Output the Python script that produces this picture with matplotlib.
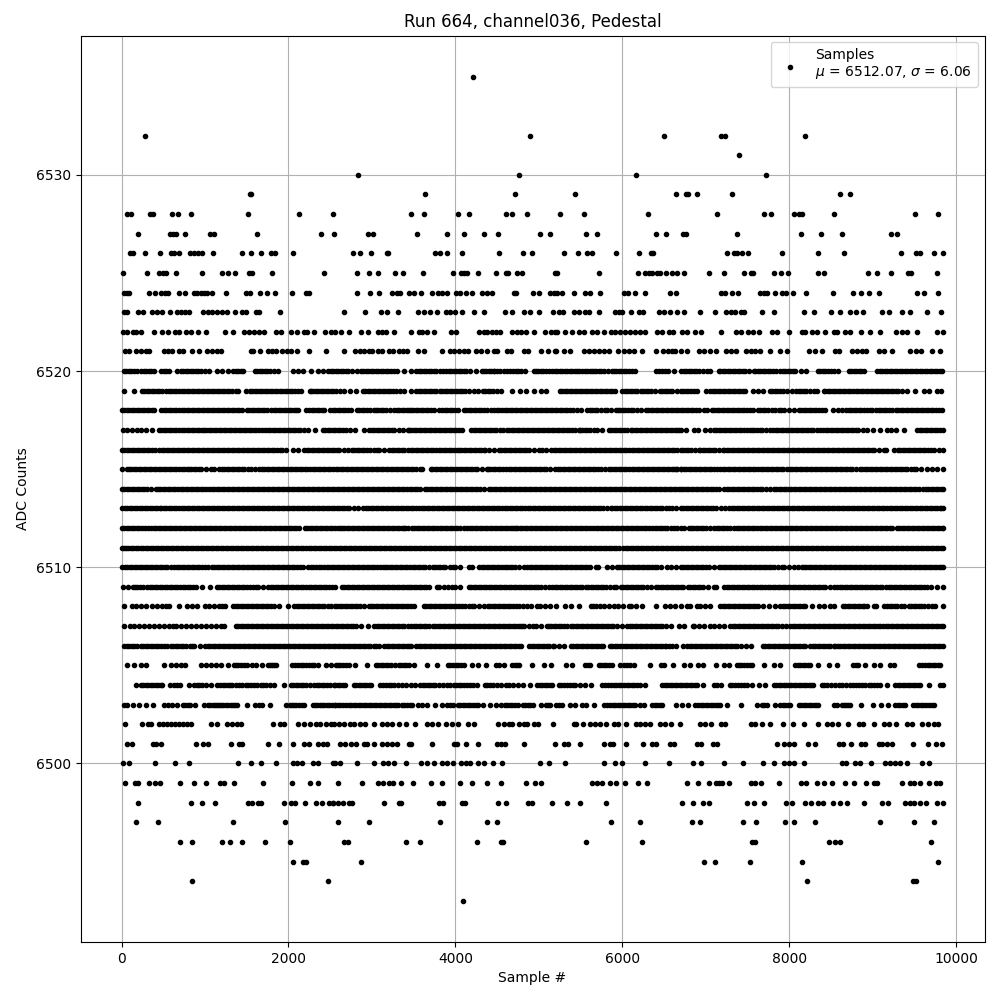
import matplotlib
matplotlib.use("Agg")
import matplotlib.pyplot as plt

run_number = 664
channel = "channel036"
mean_adc = 6512.07
std_adc = 6.06

# sample numbers, one list per ADC level
adc_6535 = [4211]
adc_6532 = [280, 4895, 6498, 7186, 7226, 8185]
adc_6531 = [7398]
adc_6530 = [2831, 4763, 6162, 7717]
adc_6529 = [1540, 1556, 3635, 4715, 5430, 6642, 6770, 6790, 6890, 7314, 8605, 8725]
adc_6528 = [68, 108, 340, 380, 604, 680, 832, 1516, 2128, 2536, 3467, 3623, 4031, 4163, 4607, 4679, 4859, 5250, 5538, 6306, 7134, 7701, 7777, 8053, 8113, 8153, 8533, 9505, 9781]
adc_6527 = [196, 580, 612, 652, 760, 1060, 1108, 1624, 2392, 2544, 2951, 3011, 3539, 3899, 4103, 4343, 4511, 5015, 5135, 5562, 5694, 6402, 6522, 6726, 6766, 7374, 8137, 8377, 8629, 9217, 9293]
adc_6526 = [100, 132, 280, 460, 596, 628, 688, 820, 868, 916, 964, 1096, 1444, 1552, 1672, 1792, 1840, 2060, 2771, 2855, 2987, 3175, 3191, 3755, 3815, 3899, 4079, 4523, 4811, 4919, 5298, 5466, 5574, 5634, 5922, 6198, 6346, 6370, 7254, 7338, 7378, 7438, 7506, 7909, 8341, 8653, 9337, 9517, 9565, 9733, 9841]
adc_6525 = [16, 308, 448, 500, 528, 652, 964, 1204, 1276, 1360, 1528, 1564, 1804, 2428, 2823, 2963, 3071, 3275, 3371, 3611, 3971, 4063, 4103, 4143, 4271, 4483, 4603, 4635, 4743, 4799, 5191, 5218, 5718, 6186, 6278, 6318, 6358, 6418, 6458, 6530, 6598, 6662, 6738, 7038, 7218, 7458, 7538, 7570, 7813, 7897, 7981, 8341, 8413, 8941, 9049, 9217, 9421, 9461, 9769]
adc_6524 = [28, 60, 92, 332, 400, 472, 520, 556, 688, 760, 868, 904, 952, 988, 1024, 1084, 1252, 1492, 1540, 1660, 1744, 1840, 2044, 2212, 2248, 2823, 2975, 3083, 3243, 3295, 3335, 3443, 3503, 3583, 3715, 3791, 3843, 3895, 4003, 4055, 4127, 4203, 4323, 4383, 4443, 4703, 4723, 4931, 5003, 5135, 5183, 5218, 5278, 5418, 5558, 5618, 5730, 6018, 6070, 6158, 6278, 6578, 6642, 7186, 7226, 7310, 7390, 7653, 7693, 7733, 7825, 7913, 7961, 8049, 8197, 8521, 8761, 8857, 8961, 9073, 9529, 9613, 9781]
adc_6523 = [28, 68, 196, 256, 368, 420, 488, 576, 660, 716, 764, 812, 980, 1036, 1088, 1148, 1208, 1260, 1360, 1440, 1496, 1608, 1648, 1900, 2663, 2923, 3103, 3183, 3311, 3551, 3623, 3691, 3779, 3883, 3935, 3991, 4083, 4227, 4347, 4595, 4675, 4823, 4891, 5003, 5171, 5238, 5286, 5418, 5482, 5558, 5606, 5718, 5918, 5958, 5998, 6106, 6198, 6250, 6438, 6498, 6578, 6658, 6738, 6930, 7110, 7238, 7298, 7346, 7418, 7458, 7673, 7813, 8173, 8293, 8501, 8605, 8725, 8805, 8889, 9109, 9193, 9353, 9445, 9653, 9821]
adc_6522 = [16, 60, 140, 168, 228, 388, 488, 556, 636, 688, 768, 828, 916, 1016, 1240, 1336, 1468, 1528, 1588, 1648, 1708, 1852, 1916, 2032, 2104, 2188, 2228, 2300, 2436, 2508, 2556, 2631, 2723, 2871, 2951, 3071, 3123, 3163, 3263, 3471, 3563, 3603, 3663, 3743, 3951, 4003, 4283, 4343, 4383, 4435, 4491, 4535, 4683, 4743, 4791, 4843, 4943, 5075, 5143, 5191, 5218, 5318, 5398, 5478, 5538, 5638, 5698, 5778, 5866, 5918, 5978, 6038, 6098, 6158, 6218, 6278, 6418, 6478, 6558, 6610, 6718, 6778, 6870, 6946, 7178, 7358, 7418, 7506, 7570, 7633, 7793, 7853, 7993, 8153, 8193, 8273, 8333, 8425, 8533, 8573, 8673, 8725, 8861, 8973, 9085, 9285, 9353, 9413, 9533, 9773, 9845]
adc_6521 = [36, 88, 168, 228, 288, 328, 508, 556, 608, 688, 740, 848, 928, 1028, 1088, 1140, 1188, 1548, 1580, 1660, 1756, 1804, 1848, 1928, 1988, 2028, 2108, 2248, 2452, 2671, 2803, 2855, 2911, 2963, 3003, 3071, 3123, 3203, 3255, 3323, 3375, 3423, 3551, 3623, 3843, 3935, 3983, 4043, 4103, 4151, 4243, 4303, 4383, 4463, 4503, 4623, 4663, 4823, 4871, 5027, 5111, 5191, 5202, 5306, 5370, 5538, 5598, 5658, 5718, 5778, 5838, 5946, 6018, 6078, 6146, 6238, 6402, 6486, 6546, 6598, 6638, 6702, 6778, 6918, 6978, 7050, 7118, 7238, 7298, 7358, 7478, 7538, 7586, 7653, 7773, 7885, 7973, 8233, 8313, 8393, 8553, 8593, 8753, 8813, 8873, 8925, 9073, 9141, 9233, 9445, 9525, 9581, 9713, 9805]
adc_6520 = [28, 58, 88, 118, 148, 188, 228, 268, 298, 328, 358, 388, 468, 508, 538, 568, 668, 708, 738, 768, 798, 828, 858, 888, 918, 948, 998, 1048, 1140, 1208, 1276, 1336, 1366, 1396, 1428, 1460, 1596, 1626, 1656, 1686, 1716, 1746, 1776, 1828, 1880, 2060, 2120, 2180, 2268, 2348, 2408, 2476, 2506, 2536, 2566, 2596, 2626, 2656, 2686, 2716, 2766, 2816, 2868, 2898, 2928, 2958, 2988, 3018, 3048, 3078, 3108, 3138, 3168, 3198, 3228, 3264, 3300, 3388, 3468, 3531, 3561, 3591, 3621, 3651, 3681, 3711, 3741, 3771, 3812, 3853, 3893, 3923, 3953, 3983, 4013, 4043, 4073, 4103, 4133, 4181, 4251, 4321, 4341, 4371, 4401, 4431, 4461, 4469, 4504, 4539, 4580, 4621, 4653, 4687, 4721, 4755, 4789, 4833, 4941, 4961, 4991, 5021, 5051, 5081, 5121, 5161, 5189, 5219, 5249, 5279, 5309, 5339, 5369, 5399, 5429, 5455, 5481, 5521, 5551, 5581, 5611, 5641, 5661, 5691, 5721, 5751, 5781, 5831, 5881, 5901, 5931, 5961, 5991, 6021, 6051, 6081, 6115, 6149, 6401, 6441, 6481, 6517, 6553, 6621, 6701, 6735, 6765, 6795, 6825, 6855, 6885, 6915, 6965, 7015, 7047, 7155, 7175, 7205, 7235, 7265, 7295, 7325, 7355, 7385, 7415, 7445, 7475, 7525, 7575, 7595, 7625, 7655, 7685, 7715, 7745, 7775, 7811, 7847, 7895, 7925, 7955, 7985, 8015, 8045, 8075, 8143, 8207, 8343, 8373, 8403, 8433, 8463, 8499, 8535, 8583, 8715, 8745, 8775, 8805, 8835, 8865, 8895, 9055, 9085, 9115, 9145, 9175, 9205, 9235, 9265, 9295, 9325, 9355, 9385, 9415, 9445, 9475, 9505, 9535, 9565, 9595, 9625, 9655, 9685, 9715, 9745, 9775, 9805, 9835]
adc_6519 = [28, 148, 240, 270, 300, 330, 360, 390, 420, 450, 480, 528, 568, 598, 628, 658, 688, 718, 748, 778, 808, 838, 868, 898, 928, 958, 988, 1018, 1048, 1078, 1108, 1138, 1168, 1198, 1228, 1258, 1288, 1328, 1368, 1400, 1488, 1536, 1566, 1596, 1626, 1656, 1686, 1716, 1746, 1776, 1806, 1836, 1866, 1896, 1926, 1956, 1986, 2016, 2046, 2076, 2120, 2156, 2256, 2268, 2298, 2328, 2358, 2388, 2418, 2448, 2478, 2508, 2538, 2568, 2614, 2660, 2736, 2812, 2888, 2918, 2948, 2978, 3008, 3038, 3068, 3098, 3128, 3158, 3188, 3218, 3248, 3292, 3336, 3388, 3468, 3533, 3563, 3593, 3623, 3653, 3683, 3713, 3743, 3773, 3813, 3843, 3873, 3903, 3933, 3963, 3993, 4023, 4053, 4083, 4113, 4167, 4221, 4269, 4329, 4359, 4389, 4419, 4449, 4495, 4541, 4673, 4773, 4841, 4941, 5021, 5081, 5253, 5283, 5313, 5343, 5373, 5403, 5433, 5463, 5493, 5523, 5553, 5583, 5613, 5643, 5673, 5703, 5733, 5763, 5793, 5823, 5853, 5883, 5913, 6001, 6031, 6061, 6091, 6121, 6147, 6173, 6221, 6251, 6281, 6311, 6341, 6397, 6453, 6481, 6511, 6541, 6571, 6601, 6651, 6701, 6731, 6761, 6791, 6821, 6858, 6895, 7003, 7055, 7085, 7115, 7145, 7175, 7205, 7235, 7265, 7295, 7325, 7355, 7385, 7415, 7445, 7475, 7567, 7623, 7687, 7767, 7797, 7827, 7857, 7887, 7931, 7975, 8035, 8087, 8117, 8147, 8177, 8207, 8251, 8295, 8335, 8415, 8435, 8465, 8495, 8525, 8555, 8585, 8615, 8645, 8675, 8705, 8735, 8767, 8797, 8827, 8857, 8887, 8917, 8947, 8977, 9007, 9037, 9067, 9097, 9127, 9157, 9187, 9217, 9247, 9277, 9307, 9357, 9407, 9507, 9615, 9675, 9775, 9823]
adc_6518 = [0, 30, 60, 90, 120, 150, 180, 210, 240, 270, 300, 330, 360, 388, 468, 508, 538, 568, 598, 628, 658, 688, 718, 748, 778, 808, 838, 868, 898, 928, 958, 988, 1018, 1048, 1078, 1108, 1138, 1168, 1198, 1228, 1258, 1288, 1318, 1348, 1378, 1410, 1448, 1500, 1530, 1560, 1590, 1620, 1650, 1680, 1710, 1748, 1796, 1826, 1856, 1886, 1916, 1946, 1976, 2006, 2036, 2066, 2095, 2120, 2208, 2248, 2278, 2308, 2338, 2368, 2398, 2428, 2500, 2530, 2560, 2590, 2620, 2650, 2680, 2710, 2748, 2820, 2850, 2880, 2910, 2940, 2980, 3028, 3048, 3078, 3108, 3138, 3168, 3218, 3268, 3296, 3326, 3356, 3386, 3416, 3446, 3468, 3498, 3528, 3558, 3588, 3618, 3648, 3678, 3708, 3750, 3801, 3841, 3871, 3901, 3931, 3961, 3995, 4029, 4101, 4131, 4161, 4191, 4221, 4251, 4281, 4311, 4341, 4385, 4429, 4469, 4499, 4529, 4559, 4589, 4619, 4649, 4679, 4709, 4739, 4769, 4799, 4829, 4859, 4889, 4919, 4949, 4979, 5009, 5039, 5069, 5099, 5129, 5159, 5189, 5219, 5249, 5279, 5309, 5339, 5369, 5415, 5461, 5501, 5581, 5611, 5641, 5671, 5701, 5745, 5789, 5821, 5871, 5921, 5949, 5979, 6009, 6039, 6069, 6099, 6129, 6175, 6221, 6281, 6311, 6341, 6371, 6401, 6431, 6461, 6491, 6521, 6551, 6581, 6611, 6641, 6671, 6701, 6731, 6761, 6791, 6821, 6851, 6881, 6925, 6975, 7015, 7075, 7105, 7135, 7165, 7195, 7225, 7255, 7285, 7315, 7345, 7375, 7405, 7435, 7465, 7495, 7530, 7567, 7623, 7653, 7683, 7713, 7743, 7790, 7835, 7875, 7905, 7935, 7995, 8055, 8115, 8145, 8175, 8205, 8235, 8265, 8295, 8325, 8355, 8395, 8435, 8523, 8580, 8635, 8683, 8713, 8743, 8773, 8803, 8833, 8863, 8900, 8935, 8965, 8995, 9043, 9073, 9103, 9133, 9163, 9200, 9235, 9275, 9305, 9335, 9365, 9395, 9425, 9455, 9485, 9515, 9545, 9575, 9605, 9635, 9665, 9695, 9725, 9755, 9795, 9835]
adc_6517 = [20, 60, 120, 188, 228, 288, 368, 448, 478, 508, 538, 568, 598, 628, 658, 688, 718, 748, 778, 808, 838, 868, 898, 928, 958, 988, 1016, 1046, 1076, 1106, 1136, 1166, 1196, 1226, 1256, 1286, 1316, 1346, 1376, 1406, 1436, 1466, 1496, 1526, 1556, 1586, 1616, 1650, 1688, 1720, 1750, 1780, 1810, 1840, 1870, 1900, 1930, 1960, 1990, 2020, 2050, 2080, 2110, 2140, 2190, 2236, 2320, 2408, 2438, 2468, 2498, 2528, 2558, 2588, 2618, 2648, 2690, 2732, 2800, 2908, 2968, 2998, 3028, 3058, 3088, 3118, 3148, 3178, 3208, 3238, 3268, 3320, 3368, 3428, 3443, 3473, 3503, 3533, 3563, 3593, 3623, 3653, 3683, 3713, 3743, 3773, 3803, 3833, 3863, 3893, 3923, 3953, 3983, 4013, 4045, 4081, 4189, 4219, 4249, 4279, 4309, 4339, 4369, 4399, 4429, 4459, 4489, 4530, 4573, 4613, 4643, 4673, 4703, 4733, 4763, 4793, 4823, 4853, 4883, 4913, 4943, 4973, 5003, 5033, 5063, 5093, 5123, 5153, 5183, 5213, 5243, 5273, 5303, 5333, 5363, 5393, 5435, 5481, 5493, 5523, 5553, 5583, 5613, 5660, 5701, 5761, 5841, 5871, 5901, 5931, 5961, 5991, 6021, 6061, 6101, 6121, 6151, 6181, 6211, 6241, 6271, 6301, 6331, 6361, 6391, 6421, 6451, 6481, 6511, 6541, 6571, 6601, 6631, 6661, 6685, 6707, 6767, 6855, 6903, 6987, 7047, 7095, 7125, 7155, 7185, 7215, 7245, 7275, 7305, 7335, 7365, 7395, 7425, 7455, 7495, 7535, 7555, 7585, 7615, 7645, 7675, 7725, 7775, 7807, 7837, 7867, 7897, 7927, 7957, 7987, 8017, 8047, 8077, 8107, 8137, 8167, 8197, 8227, 8257, 8287, 8330, 8375, 8407, 8437, 8467, 8497, 8527, 8557, 8587, 8617, 8647, 8677, 8707, 8737, 8767, 8797, 8827, 8880, 8935, 9007, 9095, 9167, 9215, 9275, 9375, 9535, 9565, 9595, 9625, 9655, 9685, 9715, 9745, 9775, 9810, 9845]
adc_6516 = [0, 30, 60, 90, 120, 150, 180, 210, 240, 270, 300, 330, 360, 400, 448, 480, 510, 540, 570, 600, 630, 660, 690, 720, 750, 780, 810, 840, 870, 900, 930, 960, 990, 1020, 1050, 1080, 1110, 1140, 1170, 1200, 1230, 1260, 1290, 1320, 1350, 1380, 1410, 1440, 1470, 1500, 1530, 1560, 1590, 1620, 1650, 1680, 1710, 1740, 1770, 1800, 1830, 1860, 1895, 1928, 1968, 2060, 2116, 2188, 2218, 2248, 2278, 2308, 2338, 2368, 2398, 2428, 2458, 2488, 2518, 2548, 2578, 2608, 2660, 2716, 2756, 2786, 2816, 2846, 2876, 2906, 2936, 2980, 3028, 3058, 3088, 3148, 3208, 3238, 3268, 3298, 3328, 3358, 3388, 3428, 3468, 3498, 3528, 3558, 3588, 3618, 3648, 3678, 3708, 3738, 3768, 3798, 3828, 3858, 3888, 3918, 3948, 3985, 4021, 4041, 4071, 4101, 4131, 4161, 4191, 4221, 4251, 4281, 4311, 4341, 4361, 4401, 4461, 4521, 4551, 4581, 4611, 4641, 4671, 4701, 4731, 4761, 4791, 4821, 4851, 4881, 4940, 5001, 5041, 5090, 5141, 5181, 5211, 5241, 5271, 5301, 5331, 5361, 5391, 5421, 5451, 5481, 5511, 5541, 5571, 5601, 5631, 5661, 5691, 5721, 5751, 5781, 5811, 5841, 5871, 5901, 5931, 5961, 5991, 6021, 6051, 6081, 6111, 6141, 6171, 6201, 6231, 6261, 6291, 6321, 6351, 6381, 6411, 6441, 6471, 6501, 6531, 6561, 6591, 6621, 6660, 6701, 6731, 6761, 6791, 6821, 6870, 6915, 6935, 6965, 6995, 7025, 7055, 7085, 7115, 7160, 7207, 7223, 7253, 7283, 7313, 7343, 7373, 7403, 7433, 7463, 7493, 7523, 7553, 7583, 7613, 7643, 7673, 7703, 7733, 7763, 7793, 7823, 7853, 7883, 7913, 7943, 7973, 8003, 8033, 8063, 8093, 8123, 8153, 8183, 8213, 8243, 8273, 8303, 8333, 8363, 8393, 8423, 8453, 8483, 8513, 8543, 8573, 8603, 8633, 8663, 8693, 8723, 8753, 8783, 8813, 8843, 8873, 8903, 8933, 8963, 8993, 9023, 9080, 9135, 9155, 9255, 9303, 9333, 9363, 9393, 9423, 9453, 9483, 9513, 9543, 9573, 9603, 9633, 9663, 9700, 9735, 9795, 9845]
adc_6515 = [0, 60, 88, 116, 148, 178, 208, 238, 268, 298, 328, 358, 388, 418, 448, 478, 508, 538, 568, 598, 628, 658, 688, 718, 748, 778, 808, 836, 866, 896, 926, 956, 1010, 1068, 1108, 1168, 1198, 1228, 1258, 1288, 1318, 1348, 1378, 1408, 1438, 1468, 1510, 1548, 1596, 1648, 1678, 1708, 1738, 1768, 1798, 1828, 1858, 1888, 1918, 1948, 1988, 2018, 2048, 2078, 2108, 2138, 2168, 2198, 2228, 2258, 2288, 2318, 2348, 2378, 2408, 2438, 2468, 2498, 2528, 2568, 2598, 2628, 2658, 2688, 2718, 2748, 2778, 2808, 2838, 2868, 2898, 2928, 2958, 2988, 3018, 3048, 3078, 3108, 3138, 3168, 3198, 3228, 3258, 3288, 3318, 3348, 3378, 3408, 3438, 3468, 3498, 3528, 3573, 3601, 3709, 3721, 3751, 3781, 3811, 3841, 3871, 3901, 3931, 3961, 3991, 4021, 4051, 4081, 4111, 4141, 4171, 4201, 4231, 4261, 4320, 4381, 4389, 4419, 4449, 4479, 4509, 4539, 4569, 4605, 4641, 4669, 4699, 4729, 4759, 4789, 4819, 4849, 4879, 4909, 4939, 4969, 4999, 5029, 5059, 5089, 5140, 5189, 5229, 5259, 5289, 5319, 5349, 5379, 5409, 5439, 5469, 5499, 5529, 5559, 5589, 5619, 5649, 5679, 5709, 5750, 5793, 5841, 5871, 5901, 5931, 5961, 5991, 6021, 6051, 6081, 6111, 6141, 6171, 6201, 6231, 6261, 6291, 6321, 6351, 6381, 6411, 6441, 6471, 6501, 6531, 6561, 6591, 6621, 6647, 6660, 6701, 6707, 6737, 6767, 6797, 6827, 6857, 6887, 6917, 6947, 6977, 7007, 7037, 7067, 7100, 7135, 7175, 7207, 7237, 7267, 7297, 7327, 7357, 7387, 7417, 7447, 7477, 7507, 7537, 7567, 7597, 7627, 7657, 7687, 7717, 7747, 7777, 7807, 7837, 7867, 7897, 7927, 7975, 8005, 8035, 8065, 8095, 8125, 8155, 8185, 8215, 8245, 8275, 8305, 8335, 8365, 8395, 8425, 8455, 8485, 8515, 8545, 8575, 8605, 8635, 8665, 8695, 8725, 8755, 8805, 8855, 8875, 8905, 8935, 8965, 8995, 9025, 9055, 9085, 9115, 9145, 9175, 9205, 9235, 9265, 9295, 9325, 9355, 9385, 9415, 9455, 9495, 9515, 9575, 9655, 9715, 9775, 9845]
adc_6514 = [0, 30, 60, 90, 120, 150, 180, 210, 240, 270, 300, 350, 408, 436, 466, 496, 526, 556, 586, 616, 646, 676, 706, 736, 766, 796, 826, 856, 886, 916, 946, 976, 1010, 1048, 1080, 1110, 1140, 1170, 1200, 1230, 1260, 1290, 1320, 1350, 1380, 1410, 1440, 1470, 1500, 1530, 1560, 1590, 1620, 1650, 1680, 1710, 1740, 1770, 1800, 1830, 1860, 1890, 1920, 1950, 1980, 2010, 2040, 2070, 2100, 2130, 2160, 2190, 2220, 2250, 2280, 2310, 2340, 2370, 2400, 2430, 2460, 2490, 2520, 2550, 2580, 2610, 2640, 2670, 2700, 2730, 2760, 2790, 2820, 2850, 2880, 2910, 2940, 2970, 3000, 3030, 3060, 3090, 3120, 3150, 3180, 3210, 3240, 3270, 3300, 3330, 3360, 3390, 3420, 3453, 3485, 3513, 3545, 3581, 3633, 3663, 3693, 3723, 3753, 3783, 3813, 3843, 3873, 3903, 3933, 3963, 3993, 4023, 4053, 4083, 4113, 4143, 4173, 4203, 4233, 4263, 4293, 4340, 4401, 4429, 4459, 4489, 4519, 4549, 4579, 4609, 4639, 4669, 4699, 4729, 4759, 4789, 4819, 4849, 4879, 4909, 4939, 4969, 4999, 5029, 5059, 5089, 5119, 5149, 5179, 5209, 5239, 5269, 5299, 5329, 5359, 5389, 5419, 5449, 5479, 5509, 5539, 5569, 5599, 5629, 5659, 5689, 5719, 5749, 5779, 5809, 5839, 5869, 5899, 5929, 5959, 5989, 6019, 6049, 6079, 6109, 6139, 6169, 6199, 6229, 6259, 6289, 6319, 6349, 6379, 6409, 6439, 6469, 6499, 6529, 6559, 6589, 6619, 6649, 6675, 6701, 6731, 6761, 6791, 6821, 6851, 6881, 6911, 6941, 6971, 7001, 7031, 7061, 7091, 7121, 7165, 7215, 7255, 7285, 7315, 7345, 7375, 7405, 7435, 7465, 7495, 7525, 7555, 7585, 7615, 7645, 7675, 7720, 7775, 7815, 7845, 7875, 7905, 7935, 7965, 7995, 8025, 8055, 8085, 8115, 8145, 8175, 8205, 8235, 8265, 8295, 8325, 8355, 8385, 8415, 8445, 8475, 8505, 8535, 8565, 8595, 8625, 8655, 8685, 8715, 8745, 8775, 8805, 8835, 8865, 8895, 8925, 8955, 8985, 9015, 9045, 9075, 9105, 9135, 9165, 9195, 9225, 9255, 9285, 9315, 9345, 9375, 9405, 9435, 9465, 9495, 9525, 9555, 9607, 9637, 9667, 9697, 9727, 9757, 9787, 9815, 9845]
adc_6513 = [8, 38, 68, 98, 128, 158, 188, 218, 248, 278, 308, 338, 368, 398, 428, 455, 476, 508, 538, 568, 598, 628, 658, 688, 718, 748, 778, 808, 838, 868, 898, 928, 958, 988, 1018, 1048, 1078, 1108, 1138, 1168, 1198, 1228, 1258, 1288, 1318, 1348, 1378, 1408, 1438, 1468, 1498, 1528, 1558, 1588, 1618, 1648, 1678, 1708, 1738, 1768, 1798, 1828, 1858, 1888, 1918, 1948, 1978, 2008, 2038, 2068, 2098, 2128, 2158, 2188, 2218, 2248, 2278, 2308, 2338, 2368, 2398, 2428, 2458, 2488, 2518, 2548, 2578, 2608, 2638, 2668, 2698, 2728, 2780, 2828, 2896, 2926, 2956, 2986, 3016, 3046, 3076, 3106, 3136, 3166, 3196, 3226, 3256, 3286, 3316, 3346, 3376, 3406, 3436, 3468, 3498, 3528, 3565, 3601, 3629, 3659, 3689, 3719, 3749, 3779, 3809, 3839, 3869, 3899, 3929, 3959, 3989, 4019, 4049, 4079, 4109, 4139, 4169, 4199, 4229, 4259, 4289, 4319, 4349, 4379, 4409, 4439, 4469, 4499, 4529, 4559, 4589, 4619, 4649, 4679, 4709, 4739, 4769, 4800, 4833, 4869, 4899, 4929, 4959, 4989, 5019, 5049, 5079, 5109, 5139, 5169, 5199, 5229, 5259, 5289, 5319, 5349, 5379, 5409, 5439, 5469, 5499, 5529, 5559, 5589, 5619, 5649, 5679, 5709, 5739, 5769, 5815, 5861, 5881, 5911, 5941, 5971, 6001, 6031, 6061, 6091, 6121, 6151, 6181, 6211, 6241, 6271, 6301, 6331, 6361, 6391, 6421, 6451, 6481, 6521, 6561, 6601, 6650, 6701, 6731, 6761, 6791, 6821, 6851, 6881, 6911, 6941, 6971, 7001, 7031, 7061, 7091, 7121, 7180, 7235, 7283, 7313, 7343, 7373, 7403, 7433, 7463, 7493, 7523, 7553, 7583, 7613, 7643, 7673, 7703, 7733, 7763, 7793, 7823, 7853, 7883, 7913, 7943, 7973, 8003, 8033, 8063, 8093, 8123, 8153, 8183, 8213, 8243, 8273, 8303, 8333, 8363, 8393, 8423, 8453, 8483, 8513, 8543, 8573, 8603, 8633, 8663, 8693, 8723, 8753, 8783, 8813, 8843, 8873, 8903, 8933, 8963, 8993, 9023, 9053, 9083, 9113, 9143, 9173, 9203, 9233, 9263, 9293, 9323, 9353, 9383, 9413, 9443, 9473, 9503, 9533, 9563, 9593, 9623, 9653, 9683, 9713, 9743, 9773, 9803, 9825, 9845]
adc_6512 = [0, 30, 60, 90, 120, 150, 180, 210, 240, 280, 318, 356, 386, 416, 446, 476, 506, 536, 566, 596, 626, 656, 686, 716, 746, 776, 806, 836, 866, 896, 926, 956, 986, 1016, 1046, 1076, 1106, 1136, 1166, 1196, 1226, 1256, 1286, 1316, 1346, 1376, 1406, 1436, 1466, 1496, 1526, 1556, 1586, 1616, 1646, 1676, 1706, 1736, 1766, 1796, 1826, 1856, 1886, 1916, 1946, 1976, 2006, 2036, 2062, 2088, 2128, 2196, 2226, 2256, 2286, 2316, 2346, 2376, 2406, 2436, 2466, 2496, 2526, 2556, 2590, 2620, 2636, 2666, 2696, 2726, 2756, 2786, 2816, 2846, 2876, 2906, 2936, 2966, 2996, 3026, 3056, 3086, 3116, 3146, 3176, 3206, 3236, 3266, 3296, 3326, 3356, 3380, 3400, 3428, 3480, 3510, 3540, 3570, 3600, 3630, 3660, 3690, 3720, 3750, 3780, 3810, 3840, 3870, 3900, 3930, 3960, 3990, 4021, 4053, 4101, 4141, 4171, 4201, 4231, 4261, 4291, 4321, 4351, 4381, 4411, 4441, 4471, 4501, 4531, 4561, 4591, 4621, 4651, 4681, 4701, 4721, 4741, 4771, 4801, 4831, 4861, 4891, 4921, 4951, 4981, 5011, 5041, 5071, 5101, 5131, 5161, 5191, 5221, 5251, 5281, 5311, 5341, 5371, 5401, 5431, 5461, 5491, 5521, 5551, 5581, 5615, 5653, 5681, 5711, 5741, 5771, 5801, 5831, 5861, 5891, 5921, 5951, 5981, 6011, 6041, 6071, 6101, 6131, 6161, 6191, 6221, 6261, 6290, 6321, 6361, 6391, 6421, 6451, 6481, 6511, 6541, 6581, 6621, 6653, 6701, 6735, 6795, 6823, 6853, 6883, 6913, 6943, 6973, 7003, 7050, 7095, 7135, 7165, 7195, 7225, 7255, 7295, 7335, 7375, 7405, 7435, 7465, 7495, 7525, 7555, 7585, 7615, 7645, 7675, 7705, 7735, 7765, 7795, 7825, 7855, 7885, 7915, 7945, 7975, 8005, 8035, 8065, 8095, 8125, 8155, 8185, 8215, 8245, 8275, 8305, 8335, 8365, 8395, 8425, 8455, 8485, 8515, 8545, 8575, 8605, 8635, 8665, 8695, 8725, 8755, 8785, 8815, 8845, 8875, 8905, 8935, 8965, 8995, 9025, 9055, 9085, 9115, 9145, 9175, 9205, 9235, 9287, 9317, 9347, 9377, 9407, 9437, 9467, 9497, 9527, 9557, 9587, 9617, 9647, 9677, 9707, 9737, 9767, 9797, 9827, 9845]
adc_6511 = [0, 27, 55, 82, 110, 140, 170, 200, 230, 260, 290, 320, 350, 380, 410, 440, 470, 500, 530, 560, 590, 620, 650, 680, 710, 740, 770, 800, 830, 860, 890, 920, 950, 980, 1010, 1040, 1070, 1100, 1130, 1160, 1190, 1220, 1250, 1280, 1310, 1340, 1370, 1400, 1430, 1460, 1490, 1520, 1550, 1580, 1610, 1640, 1670, 1700, 1730, 1760, 1790, 1820, 1850, 1880, 1910, 1940, 1970, 2000, 2030, 2060, 2090, 2120, 2150, 2180, 2210, 2240, 2270, 2300, 2330, 2360, 2390, 2420, 2450, 2480, 2510, 2540, 2570, 2600, 2630, 2660, 2690, 2720, 2750, 2780, 2810, 2840, 2870, 2900, 2930, 2960, 2990, 3020, 3050, 3080, 3110, 3140, 3170, 3200, 3230, 3260, 3290, 3320, 3350, 3380, 3410, 3440, 3470, 3500, 3530, 3560, 3590, 3620, 3650, 3680, 3710, 3740, 3770, 3800, 3830, 3860, 3890, 3920, 3950, 3980, 4010, 4040, 4070, 4100, 4130, 4160, 4190, 4220, 4250, 4280, 4310, 4340, 4370, 4400, 4430, 4460, 4490, 4520, 4550, 4580, 4610, 4640, 4670, 4700, 4730, 4760, 4790, 4820, 4850, 4880, 4910, 4940, 4970, 5000, 5030, 5060, 5090, 5120, 5150, 5180, 5210, 5240, 5270, 5300, 5330, 5360, 5390, 5420, 5450, 5480, 5510, 5540, 5570, 5600, 5630, 5660, 5690, 5720, 5750, 5780, 5810, 5840, 5870, 5900, 5930, 5960, 6012, 6040, 6070, 6100, 6130, 6160, 6190, 6220, 6250, 6280, 6310, 6340, 6370, 6400, 6430, 6460, 6490, 6520, 6550, 6580, 6610, 6640, 6670, 6700, 6730, 6760, 6790, 6820, 6850, 6880, 6910, 6940, 6970, 7000, 7030, 7060, 7090, 7120, 7150, 7180, 7210, 7240, 7270, 7300, 7330, 7360, 7390, 7420, 7450, 7480, 7510, 7540, 7570, 7600, 7630, 7660, 7690, 7720, 7750, 7780, 7810, 7840, 7870, 7900, 7930, 7960, 7990, 8020, 8050, 8080, 8110, 8140, 8170, 8200, 8230, 8260, 8290, 8320, 8350, 8380, 8410, 8440, 8470, 8500, 8530, 8560, 8590, 8620, 8650, 8680, 8710, 8740, 8770, 8800, 8830, 8860, 8890, 8920, 8950, 8980, 9010, 9040, 9070, 9100, 9130, 9160, 9190, 9220, 9250, 9280, 9310, 9340, 9370, 9400, 9430, 9460, 9490, 9520, 9550, 9580, 9610, 9640, 9670, 9700, 9730, 9760, 9790, 9820, 9849]
adc_6510 = [8, 38, 68, 98, 128, 158, 188, 218, 248, 278, 308, 338, 368, 398, 428, 458, 488, 518, 548, 590, 628, 660, 690, 720, 750, 780, 810, 840, 870, 900, 930, 960, 1000, 1040, 1080, 1110, 1140, 1170, 1200, 1230, 1260, 1290, 1320, 1350, 1380, 1410, 1440, 1470, 1500, 1530, 1560, 1590, 1620, 1650, 1680, 1710, 1740, 1770, 1800, 1830, 1860, 1890, 1920, 1950, 1980, 2010, 2040, 2070, 2100, 2140, 2180, 2236, 2266, 2296, 2328, 2360, 2394, 2428, 2460, 2490, 2520, 2550, 2580, 2610, 2640, 2670, 2700, 2730, 2760, 2790, 2820, 2850, 2880, 2910, 2940, 2970, 3000, 3030, 3060, 3095, 3128, 3156, 3186, 3216, 3246, 3276, 3306, 3336, 3366, 3396, 3426, 3456, 3490, 3521, 3551, 3581, 3611, 3641, 3690, 3729, 3761, 3791, 3821, 3851, 3881, 3930, 3973, 4001, 4061, 4161, 4201, 4289, 4319, 4349, 4379, 4409, 4439, 4469, 4499, 4529, 4559, 4589, 4619, 4649, 4679, 4709, 4765, 4821, 4861, 4891, 4921, 4951, 4981, 5011, 5041, 5071, 5101, 5131, 5161, 5191, 5221, 5251, 5281, 5311, 5341, 5371, 5401, 5431, 5461, 5491, 5521, 5551, 5581, 5613, 5681, 5709, 5821, 5881, 5933, 5963, 5993, 6023, 6053, 6083, 6113, 6143, 6173, 6203, 6233, 6263, 6293, 6323, 6353, 6388, 6421, 6461, 6541, 6581, 6640, 6701, 6731, 6761, 6791, 6821, 6851, 6881, 6911, 6941, 6971, 7001, 7040, 7095, 7155, 7185, 7215, 7245, 7275, 7305, 7335, 7365, 7395, 7425, 7455, 7485, 7515, 7545, 7575, 7605, 7635, 7665, 7695, 7725, 7755, 7785, 7815, 7865, 7915, 7943, 8003, 8063, 8110, 8155, 8175, 8205, 8235, 8265, 8295, 8325, 8355, 8385, 8415, 8445, 8475, 8505, 8535, 8565, 8595, 8625, 8655, 8685, 8715, 8745, 8775, 8805, 8835, 8865, 8895, 8925, 8955, 8985, 9015, 9045, 9075, 9105, 9135, 9165, 9195, 9225, 9255, 9285, 9315, 9345, 9375, 9405, 9435, 9465, 9495, 9525, 9555, 9585, 9615, 9645, 9675, 9705, 9735, 9765, 9795, 9825, 9845]
adc_6509 = [20, 80, 140, 156, 186, 216, 260, 300, 335, 368, 400, 430, 460, 490, 520, 550, 580, 610, 640, 670, 700, 730, 760, 790, 820, 860, 896, 968, 1056, 1140, 1170, 1200, 1230, 1260, 1290, 1320, 1350, 1380, 1410, 1440, 1470, 1500, 1535, 1570, 1605, 1640, 1696, 1760, 1790, 1820, 1850, 1880, 1910, 1940, 1970, 2000, 2030, 2060, 2090, 2120, 2150, 2180, 2210, 2240, 2270, 2300, 2330, 2360, 2390, 2420, 2450, 2480, 2520, 2560, 2636, 2666, 2696, 2726, 2756, 2786, 2816, 2846, 2876, 2906, 2936, 2966, 2996, 3026, 3056, 3086, 3116, 3146, 3176, 3206, 3236, 3266, 3296, 3326, 3356, 3386, 3416, 3442, 3468, 3500, 3530, 3560, 3590, 3620, 3650, 3680, 3781, 3801, 3869, 3909, 3961, 4001, 4061, 4161, 4189, 4219, 4249, 4279, 4309, 4339, 4369, 4399, 4429, 4459, 4489, 4519, 4549, 4579, 4609, 4639, 4669, 4699, 4729, 4759, 4789, 4819, 4849, 4879, 4909, 4939, 4969, 4995, 5021, 5075, 5121, 5161, 5191, 5221, 5251, 5281, 5311, 5341, 5371, 5401, 5431, 5461, 5491, 5521, 5560, 5593, 5621, 5651, 5681, 5711, 5741, 5771, 5801, 5850, 5901, 5921, 5981, 6013, 6043, 6073, 6103, 6133, 6163, 6193, 6223, 6253, 6300, 6349, 6401, 6431, 6461, 6491, 6521, 6551, 6581, 6611, 6641, 6671, 6701, 6731, 6783, 6813, 6843, 6873, 6903, 6933, 6963, 7030, 7103, 7127, 7215, 7255, 7285, 7315, 7345, 7375, 7405, 7435, 7465, 7495, 7525, 7555, 7585, 7615, 7645, 7675, 7715, 7745, 7775, 7805, 7835, 7865, 7895, 7925, 7955, 7985, 8015, 8045, 8075, 8105, 8135, 8165, 8195, 8225, 8255, 8285, 8315, 8345, 8375, 8405, 8435, 8485, 8535, 8575, 8605, 8635, 8665, 8695, 8725, 8755, 8785, 8815, 8845, 8875, 8905, 8935, 8965, 8995, 9025, 9055, 9085, 9115, 9155, 9195, 9225, 9255, 9285, 9315, 9345, 9375, 9405, 9435, 9465, 9495, 9525, 9555, 9585, 9615, 9655, 9695, 9767, 9845]
adc_6508 = [28, 128, 168, 228, 288, 368, 428, 488, 528, 568, 688, 780, 840, 900, 1000, 1048, 1108, 1168, 1200, 1240, 1340, 1370, 1400, 1430, 1460, 1490, 1520, 1550, 1580, 1610, 1640, 1670, 1700, 1730, 1760, 1795, 1828, 1888, 2000, 2068, 2098, 2128, 2158, 2188, 2218, 2248, 2278, 2308, 2338, 2368, 2398, 2428, 2470, 2508, 2556, 2586, 2616, 2646, 2676, 2706, 2736, 2766, 2796, 2826, 2856, 2910, 2968, 2988, 3018, 3048, 3078, 3108, 3138, 3168, 3198, 3228, 3258, 3288, 3318, 3348, 3378, 3408, 3438, 3468, 3509, 3621, 3651, 3681, 3711, 3741, 3771, 3801, 3831, 3861, 3891, 3921, 3951, 3981, 4011, 4041, 4080, 4121, 4169, 4199, 4229, 4280, 4349, 4389, 4419, 4449, 4479, 4509, 4539, 4569, 4599, 4629, 4659, 4689, 4725, 4761, 4810, 4861, 4909, 4973, 5013, 5073, 5129, 5201, 5309, 5389, 5477, 5621, 5651, 5681, 5730, 5781, 5841, 5901, 5949, 6009, 6081, 6109, 6169, 6233, 6401, 6509, 6569, 6635, 6701, 6775, 6815, 6895, 6935, 6995, 7055, 7175, 7207, 7237, 7267, 7297, 7327, 7357, 7387, 7417, 7447, 7477, 7507, 7537, 7567, 7597, 7627, 7690, 7755, 7835, 7895, 7925, 7955, 7985, 8015, 8045, 8075, 8105, 8135, 8165, 8195, 8275, 8355, 8415, 8487, 8543, 8643, 8675, 8705, 8735, 8765, 8795, 8825, 8855, 8880, 8903, 8935, 9015, 9047, 9135, 9175, 9205, 9235, 9265, 9295, 9335, 9375, 9435, 9465, 9495, 9525, 9555, 9585, 9615, 9665, 9715, 9747, 9845]
adc_6507 = [28, 100, 148, 208, 268, 328, 388, 450, 508, 568, 616, 652, 716, 776, 836, 896, 956, 1008, 1068, 1128, 1188, 1228, 1368, 1398, 1428, 1458, 1488, 1518, 1548, 1578, 1608, 1638, 1668, 1698, 1728, 1758, 1788, 1818, 1848, 1878, 1908, 1938, 1968, 1998, 2028, 2058, 2088, 2118, 2148, 2178, 2208, 2238, 2268, 2298, 2328, 2358, 2388, 2418, 2448, 2478, 2508, 2538, 2568, 2598, 2628, 2658, 2688, 2718, 2748, 2778, 2808, 2868, 2948, 3028, 3058, 3088, 3118, 3148, 3178, 3208, 3238, 3268, 3298, 3328, 3358, 3388, 3428, 3468, 3500, 3530, 3560, 3590, 3620, 3650, 3680, 3729, 3759, 3789, 3819, 3849, 3879, 3909, 3939, 3969, 3999, 4029, 4059, 4089, 4119, 4149, 4179, 4209, 4239, 4269, 4299, 4329, 4359, 4389, 4419, 4449, 4479, 4509, 4539, 4569, 4599, 4629, 4659, 4689, 4719, 4749, 4775, 4801, 4821, 4881, 4931, 4961, 5021, 5093, 5121, 5151, 5181, 5211, 5241, 5271, 5301, 5340, 5381, 5413, 5443, 5473, 5503, 5533, 5563, 5593, 5623, 5653, 5683, 5713, 5743, 5773, 5803, 5833, 5863, 5893, 5941, 6001, 6061, 6091, 6121, 6151, 6181, 6211, 6241, 6271, 6301, 6331, 6361, 6391, 6421, 6451, 6481, 6521, 6581, 6681, 6735, 6847, 6863, 6923, 6985, 7047, 7095, 7155, 7215, 7287, 7327, 7357, 7387, 7417, 7447, 7477, 7507, 7537, 7567, 7597, 7627, 7657, 7687, 7717, 7747, 7777, 7807, 7837, 7867, 7917, 7967, 8015, 8045, 8075, 8105, 8135, 8165, 8195, 8225, 8255, 8285, 8315, 8345, 8375, 8405, 8435, 8465, 8495, 8525, 8555, 8585, 8615, 8645, 8675, 8705, 8735, 8765, 8795, 8825, 8855, 8885, 8915, 8945, 8975, 9005, 9035, 9065, 9095, 9125, 9155, 9185, 9215, 9245, 9275, 9305, 9335, 9365, 9395, 9425, 9455, 9485, 9515, 9545, 9575, 9605, 9635, 9665, 9695, 9725, 9755, 9785, 9815, 9845]
adc_6506 = [30, 60, 90, 120, 150, 188, 230, 260, 290, 320, 350, 380, 410, 440, 470, 505, 540, 590, 620, 650, 680, 710, 740, 770, 820, 848, 868, 940, 1000, 1030, 1060, 1090, 1120, 1150, 1180, 1210, 1240, 1270, 1300, 1330, 1360, 1390, 1420, 1450, 1480, 1510, 1540, 1570, 1600, 1630, 1660, 1690, 1720, 1750, 1780, 1810, 1840, 1870, 1900, 1930, 1960, 1990, 2020, 2050, 2080, 2110, 2140, 2170, 2200, 2230, 2260, 2290, 2320, 2350, 2380, 2410, 2440, 2470, 2500, 2530, 2560, 2590, 2620, 2650, 2680, 2710, 2740, 2770, 2800, 2830, 2860, 2890, 2920, 2950, 2980, 3023, 3043, 3090, 3140, 3175, 3205, 3235, 3265, 3295, 3325, 3355, 3385, 3415, 3445, 3470, 3531, 3560, 3590, 3620, 3650, 3680, 3710, 3740, 3770, 3800, 3830, 3860, 3890, 3920, 3950, 3980, 4010, 4040, 4070, 4100, 4130, 4160, 4190, 4220, 4250, 4280, 4310, 4340, 4370, 4400, 4430, 4460, 4490, 4520, 4550, 4580, 4610, 4640, 4670, 4700, 4730, 4760, 4790, 4885, 4915, 4945, 4975, 5005, 5035, 5065, 5095, 5125, 5165, 5186, 5240, 5300, 5386, 5410, 5440, 5470, 5500, 5530, 5560, 5590, 5620, 5650, 5680, 5710, 5740, 5770, 5850, 5880, 5910, 5940, 5970, 6000, 6030, 6060, 6090, 6120, 6150, 6180, 6210, 6240, 6270, 6300, 6330, 6360, 6390, 6420, 6450, 6480, 6510, 6530, 6558, 6598, 6650, 6730, 6778, 6808, 6838, 6868, 6898, 6928, 6958, 6988, 7018, 7048, 7078, 7108, 7138, 7168, 7198, 7228, 7258, 7288, 7318, 7348, 7378, 7426, 7486, 7546, 7681, 7711, 7741, 7771, 7801, 7831, 7861, 7891, 7921, 7951, 7981, 8011, 8041, 8071, 8101, 8131, 8161, 8190, 8253, 8283, 8313, 8343, 8373, 8403, 8433, 8463, 8493, 8533, 8553, 8583, 8613, 8643, 8673, 8703, 8733, 8763, 8793, 8823, 8853, 8883, 8913, 8943, 8973, 9003, 9033, 9063, 9093, 9123, 9153, 9183, 9213, 9243, 9273, 9303, 9333, 9363, 9393, 9423, 9453, 9483, 9513, 9543, 9573, 9603, 9633, 9663, 9693, 9723, 9753, 9783, 9813, 9845]
adc_6505 = [68, 148, 228, 296, 508, 588, 648, 716, 756, 948, 1008, 1068, 1128, 1196, 1276, 1348, 1374, 1400, 1435, 1470, 1508, 1560, 1608, 1688, 1750, 1780, 1800, 1825, 1848, 2048, 2080, 2120, 2150, 2180, 2210, 2240, 2280, 2310, 2348, 2448, 2510, 2568, 2590, 2620, 2650, 2690, 2723, 2803, 2943, 3043, 3070, 3103, 3130, 3163, 3193, 3223, 3273, 3323, 3351, 3380, 3410, 3450, 3503, 3663, 3783, 3911, 3940, 3975, 4002, 4030, 4070, 4103, 4203, 4271, 4367, 4483, 4523, 4583, 4683, 4710, 4743, 4763, 4923, 5063, 5143, 5326, 5398, 5558, 5590, 5618, 5718, 5750, 5778, 5808, 5838, 5878, 5978, 6020, 6058, 6098, 6138, 6330, 6466, 6506, 6610, 6738, 6818, 6910, 6970, 7126, 7218, 7278, 7370, 7398, 7426, 7462, 7498, 7528, 7558, 7693, 7813, 7885, 8073, 8103, 8133, 8163, 8193, 8223, 8253, 8341, 8473, 8577, 8765, 8797, 8821, 8909, 9013, 9085, 9205, 9261, 9553, 9593, 9633, 9663, 9693, 9723, 9753, 9780, 9805]
adc_6504 = [172, 228, 260, 290, 320, 350, 380, 410, 440, 470, 488, 580, 628, 660, 700, 808, 868, 900, 930, 968, 1016, 1076, 1148, 1180, 1210, 1240, 1270, 1300, 1328, 1368, 1410, 1448, 1488, 1520, 1550, 1590, 1628, 1668, 1700, 1730, 1780, 1828, 1948, 2028, 2060, 2090, 2120, 2150, 2180, 2210, 2255, 2300, 2340, 2370, 2400, 2430, 2460, 2500, 2540, 2560, 2590, 2623, 2650, 2680, 2783, 2815, 2845, 2875, 2905, 2935, 2965, 2995, 3095, 3135, 3168, 3200, 3231, 3263, 3310, 3360, 3403, 3463, 3515, 3575, 3610, 3640, 3670, 3700, 3730, 3760, 3805, 3850, 3895, 3940, 3983, 4012, 4040, 4072, 4103, 4143, 4179, 4215, 4263, 4351, 4380, 4410, 4455, 4503, 4543, 4603, 4643, 4695, 4750, 4811, 4891, 4983, 5012, 5040, 5070, 5100, 5130, 5163, 5238, 5268, 5298, 5334, 5370, 5404, 5438, 5490, 5558, 5626, 5758, 5790, 5826, 5862, 5898, 5928, 5958, 5988, 6018, 6052, 6086, 6116, 6146, 6178, 6210, 6278, 6478, 6508, 6538, 6568, 6598, 6628, 6658, 6688, 6718, 6748, 6778, 6808, 6838, 6868, 6898, 6970, 7098, 7138, 7178, 7286, 7316, 7346, 7382, 7418, 7458, 7498, 7558, 7633, 7713, 7813, 7843, 7873, 7903, 7933, 7963, 7993, 8023, 8053, 8083, 8113, 8143, 8173, 8203, 8233, 8263, 8285, 8393, 8423, 8453, 8503, 8553, 8593, 8633, 8680, 8725, 8765, 8805, 8840, 8873, 8913, 8953, 8985, 9013, 9049, 9085, 9173, 9273, 9303, 9333, 9363, 9393, 9423, 9453, 9483, 9513, 9543, 9573, 9681, 9813, 9840]
adc_6503 = [24, 60, 132, 208, 292, 376, 508, 556, 608, 664, 740, 760, 790, 820, 880, 988, 1040, 1065, 1090, 1116, 1140, 1168, 1195, 1220, 1250, 1280, 1310, 1340, 1365, 1388, 1504, 1600, 1650, 1688, 1780, 1968, 2020, 2045, 2072, 2096, 2128, 2158, 2188, 2288, 2316, 2344, 2372, 2400, 2428, 2456, 2488, 2520, 2556, 2560, 2590, 2620, 2655, 2695, 2725, 2750, 2780, 2810, 2840, 2870, 2900, 2930, 2960, 2990, 3023, 3050, 3080, 3110, 3140, 3170, 3200, 3230, 3260, 3288, 3315, 3363, 3390, 3420, 3452, 3483, 3551, 3603, 3663, 3755, 3843, 3903, 3940, 3975, 4031, 4060, 4090, 4120, 4150, 4180, 4210, 4243, 4275, 4331, 4415, 4483, 4550, 4591, 4620, 4650, 4680, 4710, 4751, 4815, 4840, 4870, 4900, 4930, 5031, 5083, 5110, 5140, 5203, 5238, 5278, 5370, 5438, 5518, 5570, 5658, 5786, 5822, 5858, 5888, 5918, 5948, 5978, 6008, 6038, 6068, 6098, 6128, 6158, 6210, 6258, 6358, 6388, 6418, 6448, 6478, 6646, 6718, 6790, 6870, 6904, 6938, 6968, 6998, 7028, 7058, 7088, 7118, 7144, 7170, 7258, 7426, 7613, 7673, 7703, 7733, 7833, 7893, 7923, 7953, 7983, 8013, 8113, 8143, 8173, 8203, 8233, 8263, 8293, 8317, 8341, 8533, 8573, 8633, 8659, 8685, 8709, 8733, 8865, 9005, 9105, 9181, 9273, 9303, 9333, 9363, 9393, 9485, 9515, 9545, 9575, 9605, 9640, 9673, 9707, 9741]
adc_6502 = [40, 248, 316, 356, 448, 500, 548, 596, 636, 688, 740, 788, 828, 1076, 1144, 1268, 1328, 1388, 1428, 1816, 1900, 1948, 2116, 2188, 2260, 2328, 2380, 2448, 2508, 2548, 2603, 2671, 2743, 2791, 2863, 2923, 3023, 3123, 3183, 3243, 3323, 3403, 3515, 3663, 3723, 3791, 3883, 3963, 4031, 4151, 4223, 4511, 4583, 4643, 4683, 4763, 4823, 4863, 4943, 4995, 5171, 5418, 5446, 5526, 5610, 5678, 5738, 5810, 5898, 5946, 6042, 6170, 6218, 6270, 6338, 6450, 6518, 6586, 6690, 6930, 6986, 7058, 7178, 7230, 7538, 7586, 7673, 7765, 7921, 8049, 8177, 8341, 8453, 8513, 8581, 8701, 8833, 8885, 9013, 9141, 9193, 9277, 9413, 9473, 9593, 9661, 9733, 9781]
adc_6501 = [68, 128, 380, 412, 472, 892, 976, 1036, 1312, 1408, 1448, 1756, 1888, 2056, 2188, 2248, 2348, 2408, 2460, 2623, 2683, 2751, 2811, 2903, 2943, 3023, 3123, 3183, 3243, 3303, 3443, 3471, 3723, 3983, 4023, 4127, 4271, 4495, 4551, 4595, 4823, 5191, 5298, 5346, 5490, 5786, 5850, 5886, 6042, 6246, 6354, 6410, 6570, 6618, 6890, 6938, 7090, 7130, 7849, 7933, 7993, 8053, 8221, 8305, 8593, 8641, 8737, 8861, 8905, 9073, 9113, 9173, 9233, 9481, 9661, 9757, 9829]
adc_6500 = [20, 88, 400, 640, 804, 1400, 1552, 1672, 1852, 2056, 2108, 2168, 2296, 2356, 2528, 2556, 2615, 2819, 3023, 3131, 3191, 3263, 3407, 3587, 3663, 3743, 3843, 3903, 3971, 4063, 4123, 4175, 4271, 4343, 4451, 4559, 5015, 5123, 5314, 5778, 5910, 5994, 6270, 6558, 6850, 6946, 7218, 7446, 7681, 7813, 7933, 7993, 8053, 8173, 8633, 8681, 8793, 8845, 8977, 9153, 9213, 9273, 9333, 9413, 9593, 9681]
adc_6499 = [40, 156, 196, 328, 400, 456, 696, 868, 1008, 1180, 1228, 1348, 1692, 2044, 2260, 2356, 2591, 2883, 3071, 3131, 3203, 3247, 3347, 3491, 3707, 3839, 4055, 4199, 4383, 4547, 4847, 4955, 5027, 5642, 5698, 5754, 5850, 5922, 6030, 6186, 6294, 6774, 6906, 7038, 7118, 7158, 7198, 7278, 7542, 7593, 7661, 7873, 8137, 8197, 8329, 8413, 8509, 8665, 8773, 8917, 9013, 9053, 9353, 9445, 9501, 9565, 9677, 9765, 9813]
adc_6498 = [196, 832, 964, 1120, 1516, 1568, 1636, 1676, 1948, 2028, 2076, 2200, 2332, 2404, 2488, 2528, 2535, 2591, 2651, 2731, 2763, 3143, 3323, 3351, 3803, 3855, 4075, 4111, 4511, 4607, 4871, 4919, 5159, 5334, 5490, 5802, 6722, 6846, 6966, 7038, 7494, 7574, 7693, 7957, 8029, 8185, 8257, 8341, 8401, 8521, 8605, 8689, 8901, 9113, 9181, 9393, 9453, 9501, 9565, 9637, 9769, 9840]
adc_6497 = [172, 436, 1336, 1960, 2591, 2963, 3815, 4379, 4499, 5862, 6210, 6834, 6930, 7446, 7609, 7945, 8053, 8305, 9085, 9493, 9733]
adc_6496 = [700, 844, 1204, 1300, 1444, 1720, 2020, 2671, 2711, 3407, 3575, 4259, 4547, 4567, 5562, 6234, 7554, 7586, 8473, 8545, 8605, 9697]
adc_6495 = [2056, 2176, 2212, 2867, 6978, 7110, 7530, 8149, 9781]
adc_6494 = [844, 2476, 8209, 9481, 9525]
adc_6493 = [4091]

adc_levels = [6535, 6532, 6531, 6530, 6529, 6528, 6527, 6526, 6525, 6524, 6523, 6522, 6521, 6520, 6519, 6518, 6517, 6516, 6515, 6514, 6513, 6512, 6511, 6510, 6509, 6508, 6507, 6506, 6505, 6504, 6503, 6502, 6501, 6500, 6499, 6498, 6497, 6496, 6495, 6494, 6493]
level_samples = [adc_6535, adc_6532, adc_6531, adc_6530, adc_6529, adc_6528, adc_6527, adc_6526, adc_6525, adc_6524, adc_6523, adc_6522, adc_6521, adc_6520, adc_6519, adc_6518, adc_6517, adc_6516, adc_6515, adc_6514, adc_6513, adc_6512, adc_6511, adc_6510, adc_6509, adc_6508, adc_6507, adc_6506, adc_6505, adc_6504, adc_6503, adc_6502, adc_6501, adc_6500, adc_6499, adc_6498, adc_6497, adc_6496, adc_6495, adc_6494, adc_6493]

samples = []
values = []
for level, xs in zip(adc_levels, level_samples):
    samples += xs
    values += [level] * len(xs)

plt.figure(figsize=(10, 10))
plt.scatter(samples, values, marker='.', color='black', zorder=2,
            label=f"Samples\n$\\mu$ = {mean_adc:.2f}, $\\sigma$ = {std_adc:.2f}")
plt.title(f"Run {run_number}, {channel}, Pedestal")
plt.xlabel("Sample #")
plt.ylabel("ADC Counts")
plt.grid(True)
plt.legend(loc='upper right')
plt.subplots_adjust(left=0.0805, right=0.9845, top=0.9645, bottom=0.058)
plt.savefig("out.png", dpi=100)
